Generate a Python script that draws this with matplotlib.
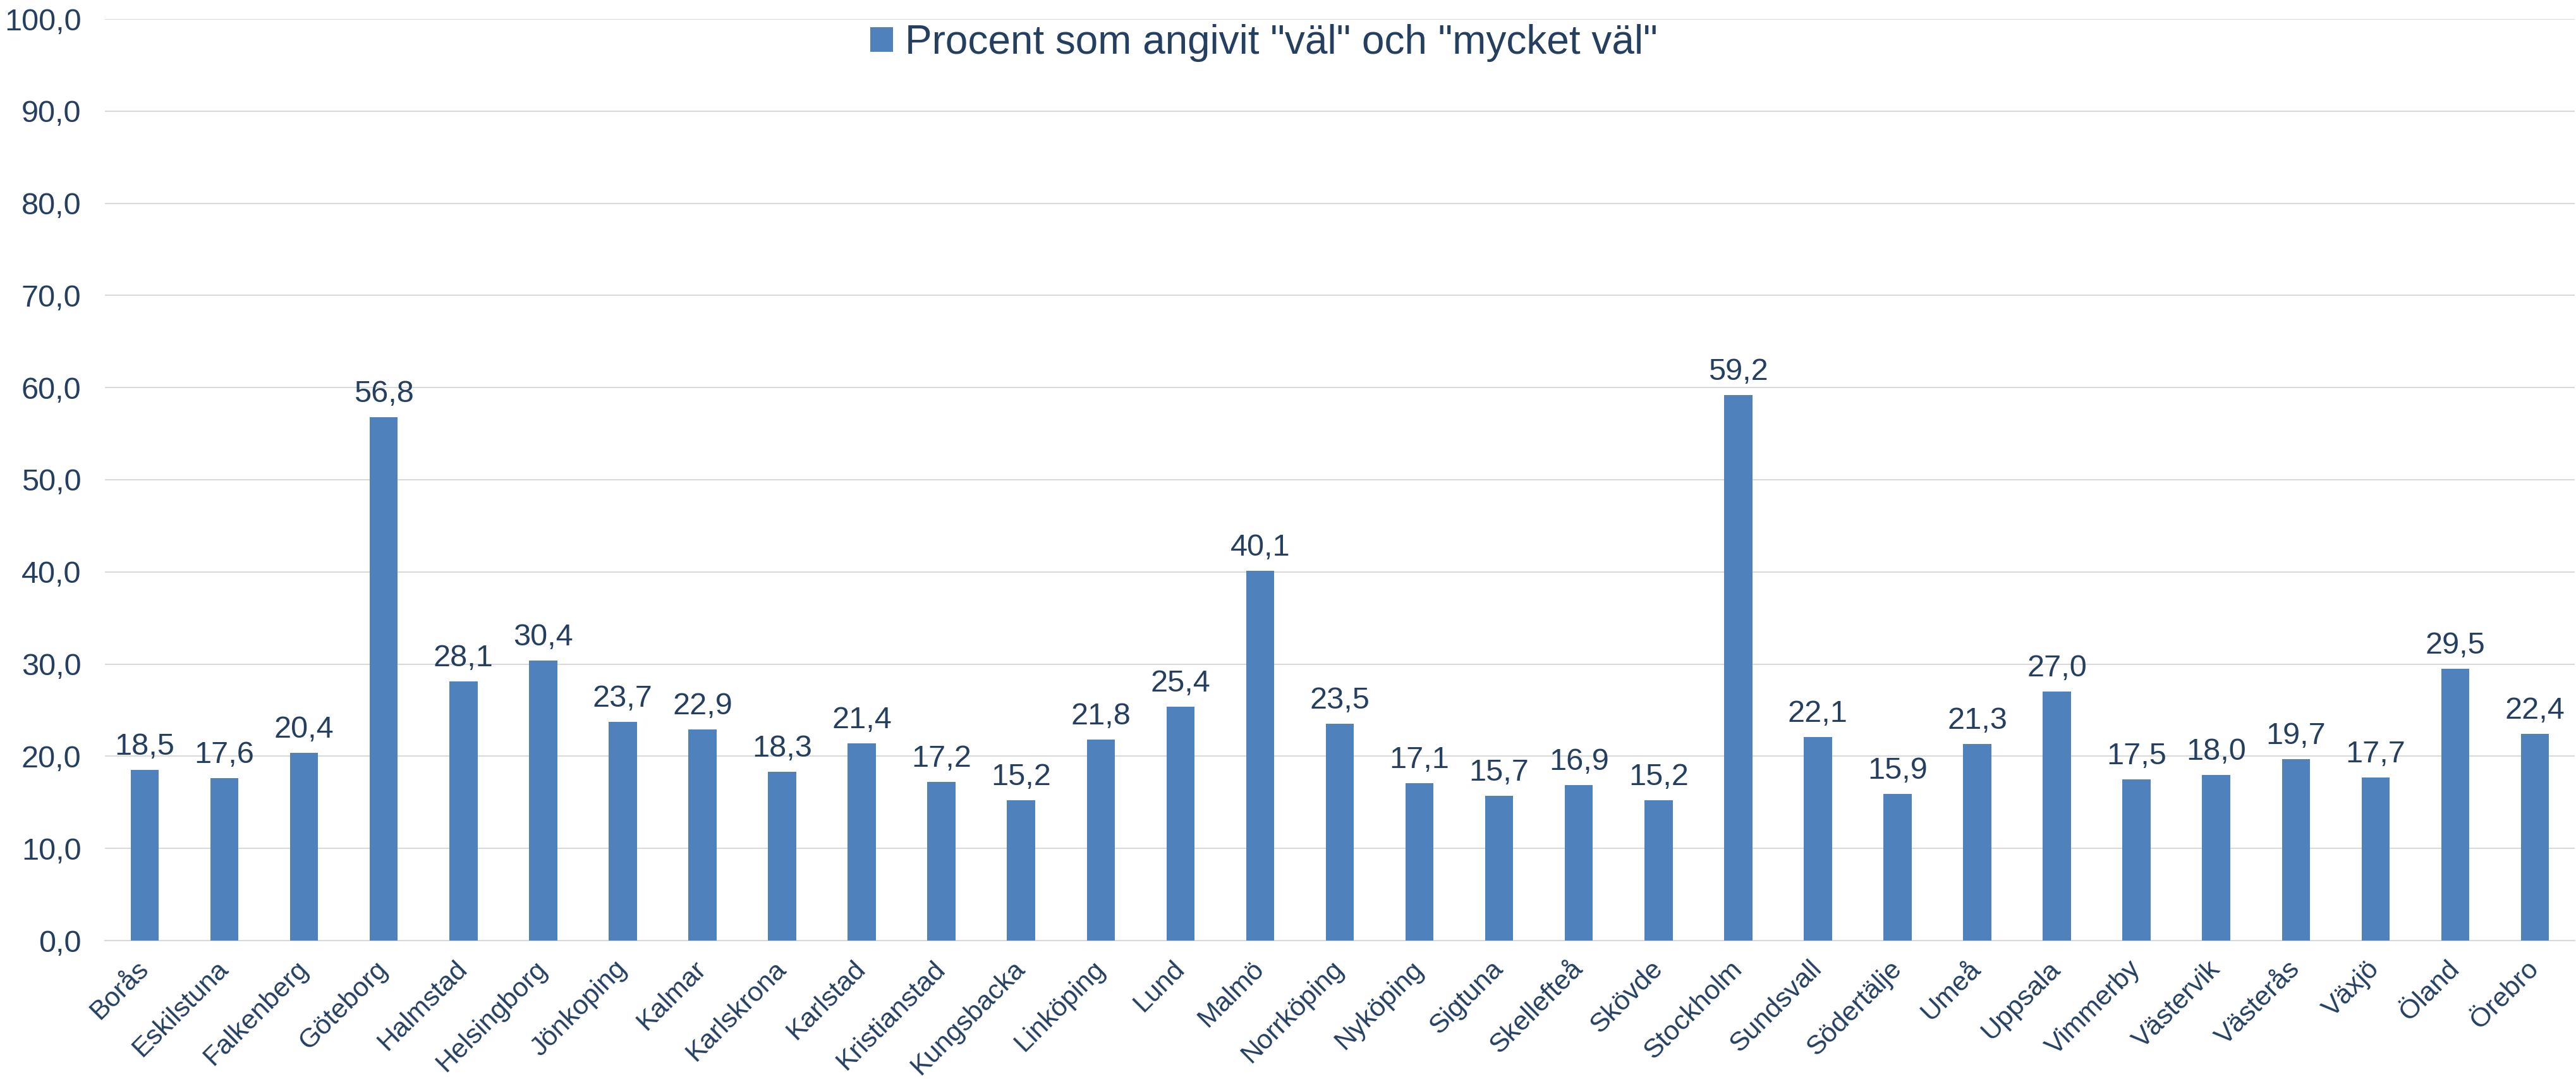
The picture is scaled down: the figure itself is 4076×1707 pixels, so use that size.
import matplotlib
matplotlib.use("Agg")
import matplotlib.pyplot as plt

orter = ["Borås", "Eskilstuna", "Falkenberg", "Göteborg", "Halmstad", "Helsingborg",
         "Jönkoping", "Kalmar", "Karlskrona", "Karlstad", "Kristianstad", "Kungsbacka",
         "Linköping", "Lund", "Malmö", "Norrköping", "Nyköping", "Sigtuna", "Skellefteå",
         "Skövde", "Stockholm", "Sundsvall", "Södertälje", "Umeå", "Uppsala", "Vimmerby",
         "Västervik", "Västerås", "Växjö", "Öland", "Örebro"]
procent = [18.5, 17.6, 20.4, 56.8, 28.1, 30.4, 23.7, 22.9, 18.3, 21.4, 17.2, 15.2,
           21.8, 25.4, 40.1, 23.5, 17.1, 15.7, 16.9, 15.2, 59.2, 22.1, 15.9, 21.3,
           27.0, 17.5, 18.0, 19.7, 17.7, 29.5, 22.4]
yticks = [0, 10, 20, 30, 40, 50, 60, 70, 80, 90, 100]
serie = "Procent som angivit \"väl\" och \"mycket väl\""

textfarg = "#243F60"
stapelfarg = "#4F81BD"
gridfarg = "#D9D9D9"

def komma(v):
    return f"{v:.1f}".replace(".", ",")

plt.rcParams["font.family"] = ["Liberation Sans", "DejaVu Sans"]

fig = plt.figure(figsize=(40.76, 17.07), dpi=100)
ax = fig.add_axes([166 / 4076, 219 / 1707, (4074 - 166) / 4076, (1488 - 30) / 1707])

x = list(range(len(orter)))
staplar = ax.bar(x, procent, width=0.353, color=stapelfarg, label=serie, zorder=3)

for xi, v in zip(x, procent):
    ax.annotate(komma(v), (xi, v), xytext=(0, 14), textcoords="offset pixels",
                ha="center", va="bottom", fontsize=35, color=textfarg)

ax.set_xlim(-0.5, len(orter) - 0.5)
ax.set_ylim(0, 100)
ax.set_yticks(yticks)
ax.set_yticklabels([komma(t) for t in yticks], fontsize=35, color=textfarg)
ax.set_xticks(x)
ax.set_xticklabels(orter, rotation=45, ha="right", va="center", rotation_mode="anchor",
                   fontsize=31, color=textfarg)
ax.tick_params(axis="y", length=0, pad=27)
ax.tick_params(axis="x", length=0, pad=28)

ax.grid(axis="y", color=gridfarg, linewidth=1.5, zorder=0)
for s in ["top", "right", "left"]:
    ax.spines[s].set_visible(False)
ax.spines["bottom"].set_color(gridfarg)
ax.spines["bottom"].set_linewidth(1.5)

fig.legend(handles=[staplar], labels=[serie], loc="center",
           bbox_to_anchor=(2000 / 4076, 1 - 68 / 1707), frameon=False,
           fontsize=46, labelcolor=textfarg, handlelength=0.55, handleheight=0.55,
           handletextpad=0.3)

fig.savefig("out.png", dpi=100, facecolor="white")
